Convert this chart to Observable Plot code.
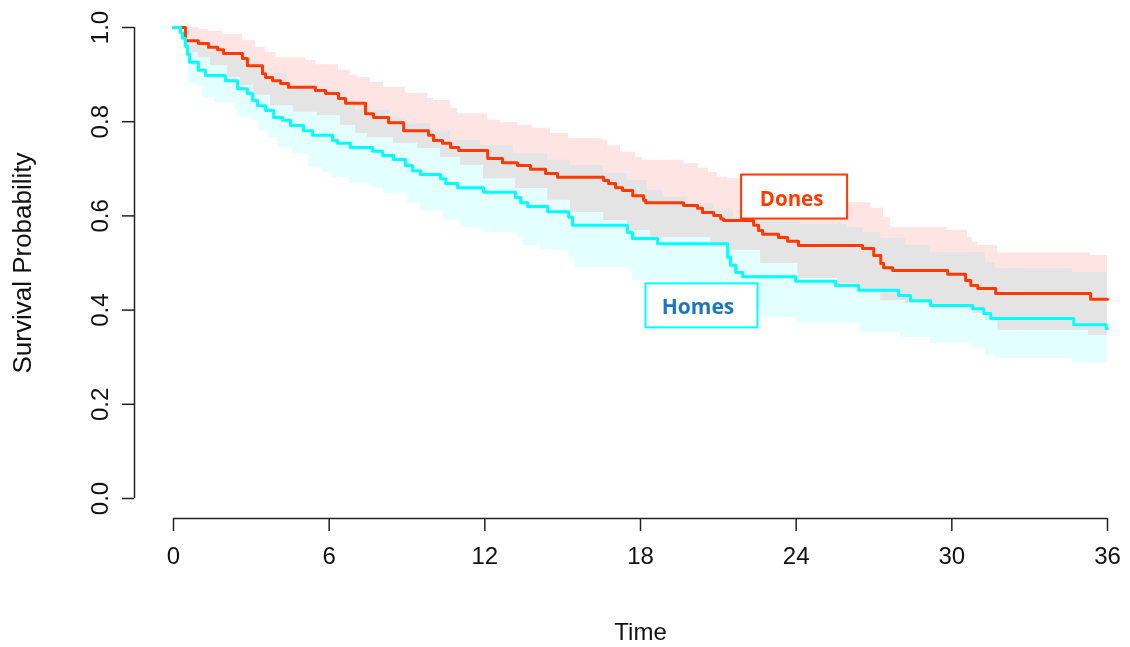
<!DOCTYPE html>
<html>
<head>
<meta charset="utf-8">
<script src="https://cdn.jsdelivr.net/npm/d3@7"></script>
<script src="https://cdn.jsdelivr.net/npm/@observablehq/plot@0.6"></script>
<style>
  html, body { margin: 0; padding: 0; background: #ffffff; }
</style>
</head>
<body>
<div id="chart"></div>
<script>
// ---- Kaplan-Meier estimates (time in months, survival probability) ----
const donesT = [0, 0.46, 0.96, 1.35, 1.70, 1.93, 2.66, 2.85, 3.43, 3.55,
  3.82, 4.13, 4.43, 5.47, 5.86, 6.36, 6.63, 7.40, 7.71, 8.29,
  8.87, 9.83, 10.02, 10.37, 10.68, 10.99, 12.11, 12.68, 13.26, 13.76,
  14.34, 14.80, 16.58, 16.77, 17.04, 17.31, 17.70, 18.12, 18.20, 19.66,
  20.20, 20.39, 20.82, 21.09, 21.20, 22.36, 22.55, 22.71, 23.32, 23.67,
  24.09, 26.56, 26.99, 27.26, 27.37, 27.72, 29.84, 30.53, 30.73, 31.00,
  31.69, 35.35, 36];
const donesS = [1, 0.972, 0.966, 0.958, 0.953, 0.945, 0.934, 0.919, 0.902, 0.894,
  0.887, 0.881, 0.873, 0.866, 0.860, 0.849, 0.839, 0.817, 0.809, 0.798,
  0.781, 0.771, 0.760, 0.754, 0.745, 0.739, 0.722, 0.713, 0.707, 0.699,
  0.690, 0.682, 0.675, 0.669, 0.660, 0.654, 0.643, 0.633, 0.628, 0.622,
  0.616, 0.607, 0.601, 0.594, 0.590, 0.580, 0.569, 0.561, 0.554, 0.546,
  0.537, 0.531, 0.516, 0.499, 0.490, 0.484, 0.476, 0.463, 0.452, 0.446,
  0.435, 0.423, 0.423];

const homesT = [0, 0.27, 0.35, 0.46, 0.54, 0.62, 0.96, 1.23, 2.00, 2.47,
  2.85, 3.05, 3.24, 3.55, 3.86, 4.20, 4.51, 5.01, 5.36, 6.13,
  6.32, 6.82, 7.67, 8.06, 8.48, 8.94, 9.21, 9.52, 10.29, 10.49,
  10.95, 11.95, 13.18, 13.38, 13.65, 14.42, 15.23, 15.38, 17.50, 17.69,
  18.66, 21.36, 21.47, 21.67, 21.94, 23.98, 25.52, 26.41, 27.95, 28.41,
  29.18, 30.80, 31.23, 31.50, 34.70, 35.95, 36];
const homesS = [1, 0.989, 0.977, 0.960, 0.943, 0.926, 0.909, 0.898, 0.887, 0.870,
  0.860, 0.845, 0.834, 0.824, 0.809, 0.803, 0.792, 0.781, 0.771, 0.760,
  0.754, 0.745, 0.737, 0.728, 0.720, 0.707, 0.696, 0.688, 0.679, 0.669,
  0.660, 0.650, 0.639, 0.628, 0.620, 0.609, 0.597, 0.580, 0.565, 0.552,
  0.541, 0.512, 0.495, 0.480, 0.471, 0.461, 0.452, 0.442, 0.431, 0.420,
  0.410, 0.403, 0.393, 0.382, 0.369, 0.361, 0.361];

// ---- 95% confidence limits ----
const donesUpT = [0, 0.96, 1.35, 1.89, 2.66, 3.16, 3.55, 3.93, 5.09, 5.47,
  6.36, 6.82, 7.09, 7.59, 8.10, 8.94, 9.79, 10.02, 10.68, 10.95,
  12.11, 12.61, 13.26, 13.84, 14.53, 15.23, 16.54, 16.73, 17.23, 17.81,
  18.08, 19.66, 20.24, 20.62, 20.97, 21.36, 22.24, 22.63, 23.40, 24.17,
  25.98, 26.87, 27.37, 27.64, 29.84, 30.61, 30.80, 31.00, 31.77, 35.35, 36];
const donesUpS = [1, 0.996, 0.992, 0.985, 0.972, 0.958, 0.947, 0.936, 0.930, 0.921,
  0.909, 0.898, 0.894, 0.883, 0.873, 0.860, 0.849, 0.845, 0.828, 0.817,
  0.803, 0.798, 0.792, 0.786, 0.775, 0.764, 0.760, 0.749, 0.735, 0.724,
  0.718, 0.711, 0.701, 0.692, 0.682, 0.679, 0.671, 0.660, 0.650, 0.639,
  0.628, 0.616, 0.597, 0.575, 0.569, 0.554, 0.544, 0.537, 0.522, 0.516, 0.516];

const donesLoT = [0, 0.46, 0.96, 1.43, 2.08, 2.58, 3.08, 3.74, 4.63, 5.55,
  6.44, 7.02, 7.48, 8.48, 9.41, 10.29, 11.06, 11.95, 13.18, 14.42,
  15.30, 16.58, 17.50, 18.39, 20.70, 21.36, 22.63, 24.06, 25.60, 26.48,
  27.26, 28.22, 29.18, 30.80, 31.30, 31.77, 35.27, 36];
const donesLoS = [1, 0.947, 0.936, 0.919, 0.894, 0.877, 0.856, 0.834, 0.820, 0.813,
  0.792, 0.775, 0.766, 0.754, 0.743, 0.724, 0.707, 0.679, 0.658, 0.633,
  0.607, 0.590, 0.569, 0.554, 0.533, 0.527, 0.499, 0.467, 0.456, 0.442,
  0.420, 0.414, 0.403, 0.393, 0.378, 0.357, 0.346, 0.346];

const homesUpT = [0, 0.27, 0.42, 0.66, 1.43, 2.58, 3.35, 4.39, 5.40, 6.44,
  7.02, 8.37, 9.02, 9.91, 10.68, 11.84, 13.11, 14.42, 15.30, 16.58,
  17.50, 18.27, 18.89, 19.82, 20.82, 21.59, 22.63, 24.17, 25.98, 26.60,
  27.26, 28.22, 29.18, 31.30, 31.69, 34.66, 36];
const homesUpS = [1, 0.994, 0.972, 0.962, 0.947, 0.926, 0.902, 0.877, 0.866, 0.845,
  0.824, 0.807, 0.796, 0.781, 0.760, 0.749, 0.732, 0.718, 0.707, 0.690,
  0.675, 0.654, 0.639, 0.626, 0.611, 0.597, 0.590, 0.582, 0.575, 0.565,
  0.552, 0.537, 0.522, 0.501, 0.488, 0.480, 0.480];

const homesLoT = [0, 0.39, 0.58, 0.96, 1.12, 1.62, 2.39, 2.51, 3.05, 3.28,
  3.66, 4.05, 4.59, 5.20, 5.74, 6.13, 6.75, 7.59, 8.10, 9.02,
  9.52, 10.41, 11.06, 11.95, 13.26, 13.49, 14.15, 15.23, 15.50, 17.54,
  17.69, 19.35, 21.36, 21.67, 22.24, 22.63, 24.06, 26.48, 28.03, 29.18,
  30.80, 31.30, 31.69, 34.66, 36];
const homesLoS = [1, 0.958, 0.881, 0.873, 0.851, 0.839, 0.824, 0.809, 0.803, 0.781,
  0.766, 0.745, 0.732, 0.703, 0.692, 0.682, 0.669, 0.660, 0.648, 0.626,
  0.611, 0.590, 0.575, 0.565, 0.554, 0.537, 0.527, 0.512, 0.490, 0.484,
  0.463, 0.459, 0.442, 0.420, 0.399, 0.384, 0.372, 0.352, 0.342, 0.329,
  0.318, 0.304, 0.297, 0.287, 0.285];

// ---- axes and labels ----
const xTicks = [0, 6, 12, 18, 24, 30, 36];
const yTicks = [0, 0.2, 0.4, 0.6, 0.8, 1.0];
const xTitle = "Time";
const yTitle = "Survival Probability";
const labelNames = ["Dones", "Homes"];
const labelT = [23.94, 20.37];
const labelS = [0.640, 0.409];

// ---- build tables ----
const series = (T, S) => T.map((t, i) => ({t, s: S[i]}));
function stepAt(T, S, t) {
  let v = S[0];
  for (let i = 0; i < T.length; i++) { if (T[i] <= t) v = S[i]; else break; }
  return v;
}
function band(upT, upS, loT, loS) {
  const ts = Array.from(new Set([...upT, ...loT])).sort((a, b) => a - b);
  return ts.map(t => ({t, hi: stepAt(upT, upS, t), lo: stepAt(loT, loS, t)}));
}
const dones = series(donesT, donesS);
const homes = series(homesT, homesS);
const donesBand = band(donesUpT, donesUpS, donesLoT, donesLoS);
const homesBand = band(homesUpT, homesUpS, homesLoT, homesLoS);
const labels = labelNames.map((name, i) => ({name, t: labelT[i], s: labelS[i]}));

const RED = "#ff3a00";
const CYAN = "#00ffff";
const AXIS = "#222222";
const xMid = (xTicks[0] + xTicks[xTicks.length - 1]) / 2;
const yMid = (yTicks[0] + yTicks[yTicks.length - 1]) / 2;

const chart = Plot.plot({
  width: 1130,
  height: 647,
  marginLeft: 134,
  marginRight: 23,
  marginTop: 27,
  marginBottom: 129,
  insetLeft: 39,
  insetBottom: 20,
  x: {domain: [xTicks[0], xTicks[xTicks.length - 1]]},
  y: {domain: [yTicks[0], yTicks[yTicks.length - 1]]},
  style: {fontFamily: "'Liberation Sans', Arial, sans-serif", background: "#ffffff", color: "#111"},
  marks: [
    Plot.areaY(donesBand, {x: "t", y1: "lo", y2: "hi", curve: "step-after", fill: "#ffe4e4", mixBlendMode: "multiply"}),
    Plot.areaY(homesBand, {x: "t", y1: "lo", y2: "hi", curve: "step-after", fill: "#e4ffff", mixBlendMode: "multiply"}),
    Plot.line(dones, {x: "t", y: "s", curve: "step-after", stroke: RED, strokeWidth: 3}),
    Plot.line(homes, {x: "t", y: "s", curve: "step-after", stroke: CYAN, strokeWidth: 3}),
    // label boxes
    Plot.rect([labels[0]], {x1: "t", x2: "t", y1: "s", y2: "s", insetLeft: -53, insetRight: -53, insetTop: -22, insetBottom: -22, fill: "white", stroke: RED, strokeWidth: 2}),
    Plot.rect([labels[1]], {x1: "t", x2: "t", y1: "s", y2: "s", insetLeft: -56, insetRight: -56, insetTop: -22, insetBottom: -22, fill: "white", stroke: CYAN, strokeWidth: 2}),
    Plot.text([labels[0]], {x: "t", y: "s", text: "name", fill: RED, fontWeight: "bold", fontSize: 20.5, fontFamily: "'Open Sans', sans-serif", dy: 2, dx: -3}),
    Plot.text([labels[1]], {x: "t", y: "s", text: "name", fill: "#1b76c2", fontWeight: "bold", fontSize: 21, fontFamily: "'Open Sans', sans-serif", dy: 1, dx: -4}),
    // x axis
    Plot.ruleY([yTicks[0]], {x1: xTicks[0], x2: xTicks[xTicks.length - 1], dy: 20, stroke: AXIS, strokeWidth: 1.5}),
    Plot.axisX({ticks: xTicks, tickSize: 13, tickPadding: 15, fontSize: 24, label: null, stroke: AXIS, strokeWidth: 1.5}),
    Plot.text([xTitle], {x: () => xMid, frameAnchor: "bottom", dy: 121, fontSize: 24, fill: "#111"}),
    // y axis
    Plot.ruleX([xTicks[0]], {y1: yTicks[0], y2: yTicks[yTicks.length - 1], dx: -39, stroke: AXIS, strokeWidth: 1.5}),
    Plot.axisY({ticks: yTicks, tickSize: 12, tickFormat: () => "", label: null, stroke: AXIS, strokeWidth: 1.5}),
    Plot.text(yTicks, {y: d => d, text: d => d.toFixed(1), frameAnchor: "left", dx: -34, rotate: -90, fontSize: 24, textAnchor: "middle", lineAnchor: "middle", fill: "#111"}),
    Plot.text([yTitle], {y: () => yMid, frameAnchor: "left", dx: -112, rotate: -90, fontSize: 26, textAnchor: "middle", lineAnchor: "middle", fill: "#111"})
  ]
});
document.getElementById("chart").appendChild(chart);
</script>
</body>
</html>
